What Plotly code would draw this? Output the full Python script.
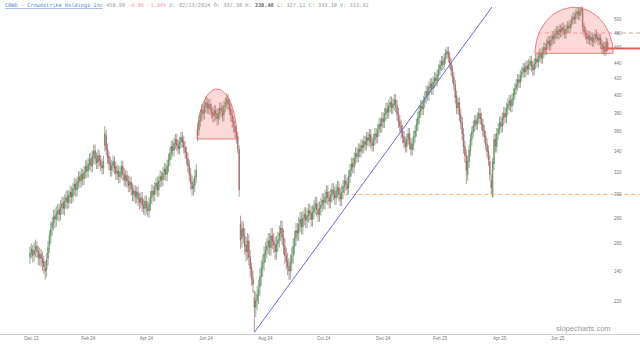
import numpy as np
import plotly.graph_objects as go

# ---- data (daily OHLC, trading-day index 0..417) ----
opens = [
 250,253,255,252,256,258,254,249,252,249,
 247,242,241,249,258,266,272,276,282,279,
 284,287,283,289,293,288,294,298,293,298,
 302,298,305,309,304,311,316,312,318,314,
 320,326,321,328,333,326,335,341,333,329,
 336,331,327,324,346,356,342,335,329,322,
 326,330,325,319,321,316,320,326,318,313,
 317,312,308,311,305,300,303,298,302,296,
 293,297,291,288,294,289,286,292,298,303,
 300,306,310,304,312,316,313,319,323,318,
 326,332,338,345,341,348,352,346,343,349,
 354,350,344,339,333,326,318,311,305,308,
 316,356,362,372,378,384,380,388,392,386,
 390,385,381,377,383,379,374,380,386,383,
 378,388,392,396,390,385,378,371,366,360,
 355,342,275,264,272,266,259,254,262,250,
 242,235,222,216,220,224,229,236,242,246,
 252,255,258,262,257,266,262,259,254,260,
 263,268,272,265,258,251,247,243,240,246,
 251,258,264,270,268,275,279,273,280,283,
 278,282,286,284,279,285,289,292,287,283,
 288,291,295,293,298,302,297,294,299,304,
 301,297,303,306,300,296,302,307,312,309,
 306,316,322,328,325,333,338,335,342,340,
 346,344,350,347,354,351,357,349,346,352,
 358,355,362,368,366,374,371,379,385,381,
 388,392,386,390,395,388,379,371,366,360,
 355,349,345,352,358,348,342,347,355,361,
 368,375,382,388,385,393,398,405,401,410,
 414,408,416,421,418,425,431,437,442,438,
 446,452,455,448,440,431,422,413,400,386,
 392,378,370,358,345,336,318,330,341,352,
 360,366,372,368,375,380,374,368,361,355,
 347,340,330,312,298,328,352,345,358,363,
 370,366,374,380,376,385,390,394,388,396,
 402,408,413,419,416,424,428,433,429,436,
 432,438,442,436,431,439,445,441,448,452,
 446,454,460,457,465,469,463,470,476,472,
 479,483,478,485,481,488,484,479,486,490,
 487,493,498,503,500,507,511,505,512,514,
 489,482,478,472,476,470,474,468,472,478,
 475,470,473,465,458,462,456,467]
highs = [
 258,260,259,261,263,262,258,257,256,254,
 251,247,253,262,270,277,281,287,288,290,
 292,292,295,298,298,300,303,304,304,308,
 307,310,315,314,316,321,321,324,323,326,
 331,332,334,338,339,341,347,347,339,342,
 341,336,333,336,366,362,348,340,335,332,
 336,335,330,327,326,326,331,331,324,322,
 322,317,316,316,310,308,308,307,307,301,
 302,302,296,299,299,294,297,303,309,308,
 311,315,316,317,322,321,325,329,328,332,
 338,344,351,351,354,358,358,352,355,360,
 360,356,350,345,339,332,324,317,314,322,
 328,369,378,384,390,390,394,399,398,396,
 396,391,387,389,389,385,386,392,392,389,
 394,398,402,402,396,391,384,377,372,366,
 360,346,282,278,277,272,265,268,267,255,
 246,240,227,226,230,234,242,248,252,258,
 261,264,268,268,272,272,268,265,266,269,
 274,278,278,271,264,257,253,249,252,257,
 264,270,276,276,281,285,285,286,289,289,
 288,292,292,290,291,295,298,298,293,294,
 297,301,301,304,308,308,303,305,310,310,
 307,309,312,312,306,308,313,318,318,315,
 322,328,334,334,339,344,344,348,348,352,
 352,356,356,360,360,363,363,355,358,364,
 364,368,375,375,381,381,386,392,392,395,
 399,399,397,402,402,395,386,378,373,367,
 361,355,358,364,364,354,353,361,367,374,
 382,389,395,395,400,405,412,412,417,421,
 421,423,428,428,432,438,444,449,449,453,
 458,461,461,454,446,437,428,419,406,398,
 398,385,376,364,351,342,336,347,358,366,
 372,378,378,381,386,386,380,374,367,361,
 353,346,336,318,334,358,358,364,369,376,
 377,381,387,387,392,397,401,401,403,409,
 415,420,426,426,431,435,440,440,443,443,
 445,449,449,443,446,452,452,455,459,459,
 461,467,467,472,476,476,477,483,483,486,
 490,490,492,492,495,495,491,493,497,497,
 500,505,510,510,514,517,517,518,519,518,
 495,489,485,483,483,481,481,479,485,485,
 481,479,479,471,468,468,474,472]
lows = [
 245,249,246,247,250,249,244,244,243,240,
 238,234,236,244,253,260,266,270,272,273,
 278,277,278,283,283,282,288,287,288,292,
 292,293,299,298,298,305,306,306,308,308,
 314,315,315,322,320,320,328,327,323,323,
 325,321,318,318,340,336,328,322,316,316,
 320,318,313,313,310,310,314,312,307,307,
 306,302,302,299,294,294,292,292,290,287,
 288,285,283,282,283,281,280,286,292,294,
 294,300,298,298,306,307,307,313,312,312,
 320,326,332,335,335,342,340,337,337,343,
 344,338,333,327,320,312,304,299,299,302,
 310,350,356,365,371,373,373,381,379,379,
 378,374,370,370,372,367,367,373,376,371,
 371,381,385,383,378,371,364,359,353,348,
 338,298,256,257,260,252,247,248,244,236,
 230,225,201,210,214,218,223,230,236,240,
 246,249,252,251,251,256,253,248,248,254,
 257,262,259,252,245,241,237,234,234,240,
 245,252,258,262,262,269,267,267,274,272,
 272,276,278,273,273,279,283,281,277,277,
 282,285,287,287,292,291,288,288,293,295,
 291,291,297,294,290,290,296,301,303,299,
 300,310,316,319,319,327,329,329,334,334,
 338,338,341,341,345,345,343,340,340,346,
 348,348,355,359,359,364,364,372,374,374,
 381,379,379,383,381,372,364,359,353,348,
 343,339,339,346,342,336,336,341,349,355,
 361,368,375,378,378,386,391,394,394,403,
 401,401,409,411,411,418,424,430,431,431,
 439,445,441,433,424,415,406,391,379,379,
 371,363,351,338,329,309,312,324,335,346,
 354,360,362,362,369,368,362,355,349,341,
 334,326,312,300,297,322,339,339,352,357,
 359,359,367,369,369,378,383,381,381,389,
 395,401,406,409,409,417,421,422,422,425,
 425,431,429,424,424,432,434,434,441,439,
 439,447,450,450,458,456,456,463,465,465,
 472,471,471,474,474,477,472,472,479,480,
 480,486,491,493,493,500,498,498,505,482,
 475,471,465,465,463,463,461,461,465,468,
 463,463,458,451,451,449,450,455]
closes = [
 253,256,251,255,258,254,250,252,249,246,
 243,240,248,257,266,271,276,281,279,284,
 286,283,289,292,288,294,297,293,299,302,
 298,305,309,304,311,315,312,318,314,320,
 325,321,328,332,326,335,340,333,329,336,
 331,327,324,330,358,342,334,328,322,326,
 330,324,319,321,316,320,325,318,313,317,
 312,308,311,305,300,303,298,302,296,293,
 297,291,288,294,289,286,292,298,303,300,
 306,310,304,312,316,313,319,323,318,326,
 332,338,345,341,348,352,346,343,349,354,
 350,344,339,333,326,318,310,305,308,316,
 322,362,372,378,384,380,388,392,386,390,
 385,381,377,383,379,374,380,386,383,378,
 388,392,396,390,385,378,371,366,360,355,
 343,304,263,271,266,258,254,262,250,242,
 235,231,216,220,224,228,236,242,246,252,
 255,258,262,257,266,262,259,254,260,263,
 268,272,265,258,251,247,243,240,246,251,
 258,264,270,268,275,279,273,280,283,278,
 282,286,284,279,285,289,292,287,283,288,
 291,295,293,298,302,297,294,299,304,301,
 297,303,306,300,296,302,307,312,309,305,
 316,322,328,325,333,338,335,342,340,346,
 344,350,347,354,351,357,349,346,352,358,
 355,362,368,366,374,371,379,385,381,388,
 392,386,390,395,388,379,371,366,360,355,
 349,345,352,358,348,342,347,355,361,368,
 375,382,388,385,393,398,405,401,410,414,
 408,416,421,418,425,431,437,442,438,446,
 452,455,448,440,431,422,413,398,386,392,
 378,370,358,345,336,322,330,341,352,360,
 366,372,368,375,380,374,368,361,355,347,
 340,332,318,306,330,352,345,358,363,370,
 366,374,380,376,385,390,394,388,396,402,
 408,413,419,416,424,428,433,429,436,432,
 438,442,436,431,439,445,441,448,452,446,
 454,460,457,465,469,463,470,476,472,479,
 483,478,485,481,488,484,479,486,490,487,
 493,498,503,500,507,511,505,512,515,489,
 482,478,472,476,470,474,468,472,478,475,
 470,473,465,458,462,455,468.05,458.99]

x_tick_idx = [1, 42, 84, 127, 170, 212, 255, 296, 339, 381]
x_tick_text = ["Dec 23", "Feb 24", "Apr 24", "Jun 24", "Aug 24",
               "Oct 24", "Dec 24", "Feb 25", "Apr 25", "Jun 25"]
y_ticks = [220, 240, 260, 280, 300, 320, 340, 360, 380, 400, 420, 440, 460, 480, 500]

# drawings (in data units)
trend_idx = [162, 333.6]
trend_px = [200.81, 518]
support_level = 300
support_start = 227
resist_level = 480
resist_start = 366.8
last_price = 458.99
# domes: (centre index, half-width in days, base price, top price)
domes = [(135.0, 14.4, 352.6, 407.9), (392.8, 28.2, 452.5, 517.3)]

X_MIN, X_MAX = -21.66, 440.4
Y_MIN, Y_MAX = 199.8, 528.5

idx = list(range(len(closes)))

fig = go.Figure()

for cx, rx, base, top in domes:
    t = np.linspace(0, np.pi, 80)
    xs = cx + rx * np.cos(t)
    lb, lt = np.log(base), np.log(top)
    ys = np.exp(lb + (lt - lb) * np.sin(t))
    xs = np.concatenate([xs, [xs[0]]])
    ys = np.concatenate([ys, [ys[0]]])
    fig.add_trace(go.Scatter(x=xs, y=ys, mode="lines", fill="toself",
                             fillcolor="rgba(240,120,120,0.28)",
                             line=dict(color="rgba(225,90,90,0.75)", width=1),
                             hoverinfo="skip"))

fig.add_trace(go.Scatter(x=[support_start, X_MAX], y=[support_level] * 2, mode="lines",
                         line=dict(color="#f2b27a", width=1, dash="4px,3px"), hoverinfo="skip"))
fig.add_trace(go.Scatter(x=[resist_start, X_MAX], y=[resist_level] * 2, mode="lines",
                         line=dict(color="#ec9a9a", width=1, dash="4px,3px"), hoverinfo="skip"))

fig.add_trace(go.Candlestick(
    x=idx, open=opens, high=highs, low=lows, close=closes,
    increasing=dict(fillcolor="#7fd07f", line=dict(color="#4f7a4f", width=0.6)),
    decreasing=dict(fillcolor="#e89090", line=dict(color="#8a5050", width=0.6)),
    whiskerwidth=0, hoverinfo="skip"))

fig.add_trace(go.Scatter(x=trend_idx, y=trend_px, mode="lines",
                         line=dict(color="#6a6ae0", width=1), hoverinfo="skip"))
fig.add_trace(go.Scatter(x=[idx[-1] - 0.8, X_MAX], y=[last_price] * 2, mode="lines",
                         line=dict(color="#e06060", width=2), hoverinfo="skip"))

header = ("<span style='color:#5a7fd6'><u>CRWD - Crowdstrike Holdings Inc</u></span> "
          "<span style='color:#999'>458.99</span> "
          "<span style='color:#f0a0a0'>-9.06 -1.94%</span> "
          "<span style='color:#999'>D: 02/13/2024 O: 337.30 H:</span> "
          "<b>338.40</b> "
          "<span style='color:#999'>L: 327.11 C: 333.18 V: 313.32</span>")

W, H = 640, 345
plot_h = H - 11

fig.update_layout(
    width=W, height=H,
    margin=dict(l=0, r=0, t=0, b=11),
    paper_bgcolor="white", plot_bgcolor="white",
    showlegend=False,
    xaxis=dict(range=[X_MIN, X_MAX], rangeslider=dict(visible=False),
               showgrid=False, zeroline=False, showline=True, linecolor="#cfcfcf", linewidth=1,
               tickmode="array", tickvals=x_tick_idx, ticktext=x_tick_text,
               ticks="", tickfont=dict(family="Liberation Sans", size=4.5, color="#777")),
    yaxis=dict(type="log", range=[np.log10(Y_MIN), np.log10(Y_MAX)],
               side="right", anchor="free", position=0.958,
               showgrid=False, zeroline=False, showline=False,
               tickmode="array", tickvals=y_ticks, ticktext=[str(v) for v in y_ticks],
               ticks="", tickfont=dict(family="Liberation Sans", size=4.5, color="#777")),
    annotations=[
        dict(text=header, x=3 / W, y=1.0, xref="paper", yref="paper", showarrow=False,
             xanchor="left", yanchor="top",
             font=dict(family="DejaVu Sans Mono", size=5.25, color="#666")),
        dict(text="slopecharts.com", x=583 / W, y=(334 - 328) / plot_h, xref="paper", yref="paper",
             showarrow=False, xanchor="center", yanchor="middle",
             font=dict(family="Liberation Sans", size=7.5, color="#9a9a9a")),
    ],
)

fig.write_html("out.html")
